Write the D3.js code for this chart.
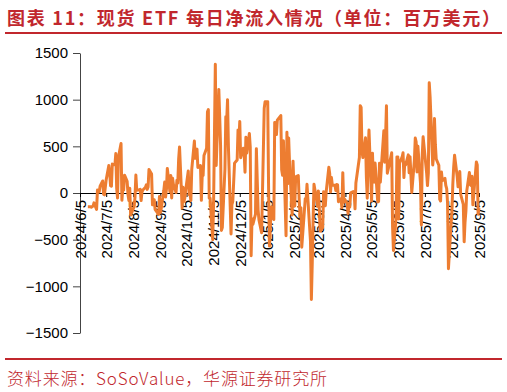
<!DOCTYPE html>
<html lang="zh">
<head>
  <meta charset="utf-8">
  <title>现货 ETF 每日净流入情况</title>
  <script src="https://cdn.jsdelivr.net/npm/d3@7"></script>
  <style>
  body { margin: 0; background: #fff; }
  svg { font-family: "Liberation Sans", Arial, sans-serif; }
  </style>
</head>
<body>
  <script>
  // daily net flow, million USD, [day of month, value]
  var jun2024 = [[14,-146],[17,-146],[18,-152],[20,-140],[21,-106],[24,-175],[25,31],[26,22],[27,12],[28,73]];
  var jul2024 = [[1,129],[2,-13],[3,-20],[5,143],[8,295],[9,216],[10,79],[11,73],[12,310],[15,301],[16,422],[17,53],[18,-54],[19,384],[22,530],[23,-78],[24,45],[25,31],[26,191],[29,124],[30,-18],[31,-81]];
  var aug2024 = [[1,51],[2,-237],[5,-168],[6,-149],[7,-45],[8,192],[9,29],[12,35],[13,39],[14,-81],[15,11],[16,33],[19,62],[20,88],[21,39],[22,65],[23,252],[26,203],[27,-127],[28,-105],[29,-72],[30,-175]];
  var sep2024 = [[3,-230],[4,-37],[5,-211],[6,-170],[9,29],[10,117],[11,-43],[12,39],[13,263],[16,13],[17,187],[18,-53],[19,158],[20,92],[23,5],[24,136],[25,106],[26,366],[27,494],[30,-160]];
  var oct2024 = [[1,61],[2,-92],[3,-54],[4,26],[7,235],[8,-19],[9,-16],[10,-81],[11,254],[14,556],[15,371],[16,458],[17,470],[18,274],[21,294],[22,-79],[23,192],[24,188],[25,402],[28,479],[29,870],[30,893],[31,-55]];
  var nov2024 = [[1,-55],[4,-500],[5,-117],[6,622],[7,1380],[8,294],[11,1110],[12,818],[13,510],[14,-401],[15,-371],[18,255],[19,816],[20,773],[21,1000],[22,490],[25,-438],[26,-123],[27,-90],[29,320]];
  var dec2024 = [[2,354],[3,676],[4,556],[5,767],[6,377],[9,479],[10,438],[11,223],[12,597],[13,429],[16,637],[17,493],[18,-672],[19,-277],[20,-336],[23,-226],[24,475],[26,-183],[27,-288],[30,-426],[31,5]];
  var jan2025 = [[2,908],[3,978],[6,979],[7,52],[8,-569],[10,-149],[13,-284],[14,755],[15,754],[16,626],[17,780],[21,830],[22,248],[23,189],[24,560],[27,-458],[28,650],[29,100],[30,588],[31,318]];
  var feb2025 = [[3,-235],[4,341],[5,66],[6,-140],[7,172],[10,186],[11,-57],[12,-251],[13,-157],[14,-580],[18,-61],[19,-71],[20,94],[21,-64],[24,-516],[25,-1140],[26,-755],[27,-276],[28,94]];
  var mar2025 = [[3,-74],[4,-143],[5,22],[6,-134],[7,-409],[10,-371],[11,13],[12,-115],[13,-135],[14,15],[17,275],[18,209],[19,11],[20,165],[21,83],[24,84],[25,27],[26,90],[27,89],[28,-93],[31,-60]];
  var apr2025 = [[1,-157],[2,218],[3,-100],[4,-64],[7,-109],[8,-220],[9,-127],[10,-150],[11,2],[14,15],[15,3],[16,-170],[17,107],[21,381],[22,936],[23,917],[24,442],[25,380],[28,591],[29,173],[30,-56]];
  var may2025 = [[1,422],[2,675],[5,-86],[6,425],[7,142],[8,117],[9,321],[12,-96],[13,-91],[14,319],[15,115],[16,260],[19,667],[20,329],[21,608],[22,934],[23,211],[27,385],[28,432],[29,-358],[30,-616]];
  var jun2025 = [[2,-268],[3,387],[4,387],[5,-278],[6,322],[9,386],[10,431],[11,165],[12,323],[13,302],[16,409],[17,216],[18,389],[20,6],[23,350],[24,588],[25,548],[26,226],[27,502],[30,102]];
  var jul2025 = [[1,-342],[2,408],[3,602],[7,217],[8,80],[9,216],[10,1180],[11,1030],[14,300],[15,403],[16,799],[17,523],[18,364],[21,297],[22,-68],[23,-86],[24,226],[25,131],[28,157],[29,80],[30,47],[31,-114]];
  var aug2025 = [[1,-812],[4,-333],[5,-196],[6,91],[7,277],[8,404],[11,178],[12,66],[13,87],[14,231],[15,-14],[18,-122],[19,-523],[20,-311],[21,-194],[22,23],[25,219],[26,88],[27,81],[28,179],[29,-127]];
  var sep2025 = [[2,333],[3,301],[4,-227],[5,-160]];

  var months = [
    [2024, 6, jun2024], [2024, 7, jul2024], [2024, 8, aug2024], [2024, 9, sep2024],
    [2024, 10, oct2024], [2024, 11, nov2024], [2024, 12, dec2024], [2025, 1, jan2025],
    [2025, 2, feb2025], [2025, 3, mar2025], [2025, 4, apr2025], [2025, 5, may2025],
    [2025, 6, jun2025], [2025, 7, jul2025], [2025, 8, aug2025], [2025, 9, sep2025]
  ];

  var xTickLabels = ["2024/6/5","2024/7/5","2024/8/5","2024/9/5","2024/10/5","2024/11/5","2024/12/5",
    "2025/1/5","2025/2/5","2025/3/5","2025/4/5","2025/5/5","2025/6/5","2025/7/5","2025/8/5","2025/9/5"];
  var yTicks = [-1500, -1000, -500, 0, 500, 1000, 1500];

  var titleText = "图表 11：现货 ETF 每日净流入情况（单位：百万美元）";
  var sourceText = "资料来源：SoSoValue，华源证券研究所";

  var red = "#c1272d";
  var tickFont = "'Liberation Sans', Arial, sans-serif";
  var width = 507, height = 392;

  var data = [];
  months.forEach(function(m) {
    m[2].forEach(function(d) {
      data.push({date: new Date(m[0], m[1] - 1, d[0]), value: d[1]});
    });
  });

  var parseLabel = function(s) {
    var p = s.split("/");
    return new Date(+p[0], +p[1] - 1, +p[2]);
  };
  var tickDates = xTickLabels.map(parseLabel);

  var svg = d3.select("body").append("svg")
    .attr("width", width)
    .attr("height", height);

  var x = d3.scaleTime()
    .domain([tickDates[0], tickDates[tickDates.length - 1]])
    .range([80, 479]);

  var y = d3.scaleLinear()
    .domain([-1500, 1500])
    .range([333, 53]);

  // title + rules
  svg.append("text")
    .attr("x", 7)
    .attr("y", 25)
    .attr("fill", red)
    .attr("font-family", '"Noto Sans CJK SC", sans-serif')
    .attr("font-weight", "bold")
    .attr("font-size", 18)
    .attr("textLength", 493)
    .attr("lengthAdjust", "spacing")
    .text(titleText);

  svg.append("line")
    .attr("x1", 5).attr("x2", 502)
    .attr("y1", 33).attr("y2", 33)
    .attr("stroke", red)
    .attr("stroke-width", 2);

  svg.append("line")
    .attr("x1", 5).attr("x2", 502)
    .attr("y1", 359).attr("y2", 359)
    .attr("stroke", red)
    .attr("stroke-width", 2);

  svg.append("text")
    .attr("x", 7)
    .attr("y", 385)
    .attr("fill", red)
    .attr("font-family", '"Noto Sans CJK SC", sans-serif')
    .attr("font-weight", 300)
    .attr("font-size", 17)
    .attr("textLength", 320)
    .attr("lengthAdjust", "spacing")
    .text(sourceText);

  // y axis
  var yAxis = svg.append("g")
    .attr("transform", "translate(80,0)")
    .call(d3.axisLeft(y).tickValues(yTicks).tickFormat(d3.format("d"))
      .tickSize(7).tickPadding(5).tickSizeOuter(0));

  yAxis.attr("font-family", tickFont);
  yAxis.select(".domain").attr("stroke", "#444");
  yAxis.selectAll(".tick line").attr("stroke", "#444");
  yAxis.selectAll("text")
    .attr("font-size", 15)
    .attr("fill", "#000");

  // x axis on the zero line
  var xAxis = svg.append("g")
    .attr("transform", "translate(0," + y(0) + ")")
    .call(d3.axisBottom(x).tickValues(tickDates).tickSize(4).tickSizeOuter(0)
      .tickFormat(function(d, i) { return xTickLabels[i]; }));

  xAxis.attr("font-family", tickFont);
  xAxis.select(".domain").attr("stroke", "#000");
  xAxis.selectAll(".tick line").attr("stroke", "#000");
  xAxis.selectAll("text")
    .attr("transform", "rotate(-90)")
    .attr("x", -7)
    .attr("y", 0)
    .attr("dy", "0.35em")
    .attr("text-anchor", "end")
    .attr("font-size", 15)
    .attr("fill", "#000");

  // series
  var line = d3.line()
    .x(function(d) { return x(d.date); })
    .y(function(d) { return y(d.value); });

  svg.append("path")
    .datum(data)
    .attr("d", line)
    .attr("fill", "none")
    .attr("stroke", "#ED7D31")
    .attr("stroke-width", 3)
    .attr("stroke-linejoin", "round");
  </script>
</body>
</html>
